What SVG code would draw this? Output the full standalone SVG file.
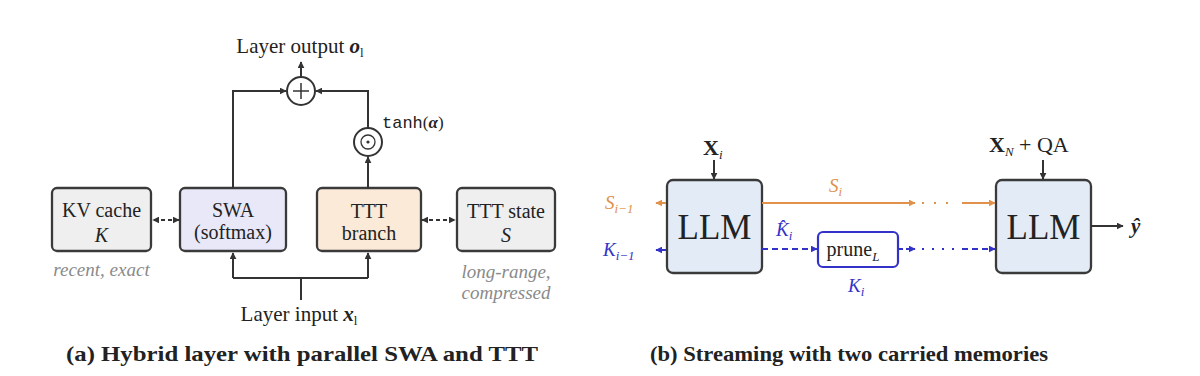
<svg xmlns="http://www.w3.org/2000/svg" width="1200" height="376" viewBox="0 0 1200 376" font-family="Liberation Serif, DejaVu Serif, serif">
<style>
text{font-family:"Liberation Serif","DejaVu Serif","Noto Serif",serif;fill:#222}
.box{stroke:#3a3a3a;stroke-width:2.3}
.grey{fill:#efefef}
.swa{fill:#e8e8f8}
.ttt{fill:#fbead8}
.llm{fill:#e3ebf6}
.lbl{font-size:20px}
.note{font-size:19px;font-style:italic;fill:#8a8a8a}
.cap{font-size:22px;font-weight:bold}
.ln{fill:none;stroke:#333;stroke-width:2}
.or{fill:none;stroke:#e0914a;stroke-width:2}
.bl{fill:none;stroke:#3232c8;stroke-width:2}
</style>
<defs>
<marker id="ak" viewBox="0 0 10 10" refX="9" refY="5" markerWidth="7" markerHeight="7" markerUnits="userSpaceOnUse" orient="auto-start-reverse"><path d="M0,0 L10,5 L0,10 z" fill="#333"/></marker>
<marker id="ao" viewBox="0 0 10 10" refX="9" refY="5" markerWidth="7" markerHeight="7" markerUnits="userSpaceOnUse" orient="auto-start-reverse"><path d="M0,0 L10,5 L0,10 z" fill="#e0914a"/></marker>
<marker id="ab" viewBox="0 0 10 10" refX="9" refY="5" markerWidth="7" markerHeight="7" markerUnits="userSpaceOnUse" orient="auto-start-reverse"><path d="M0,0 L10,5 L0,10 z" fill="#3232c8"/></marker>
</defs>

<!-- Panel (a) nodes -->
<g id="kv">
<rect class="box grey" x="52" y="188" width="99" height="63" rx="5"/>
<text class="lbl" x="101.5" y="217" text-anchor="middle">KV cache</text>
<text class="lbl" x="101.5" y="242" text-anchor="middle" font-style="italic">K</text>
</g>
<g id="swa">
<rect class="box swa" x="180" y="188" width="106" height="63" rx="5"/>
<text class="lbl" x="233" y="217" text-anchor="middle">SWA</text>
<text class="lbl" x="233" y="239" text-anchor="middle">(softmax)</text>
</g>
<g id="ttt">
<rect class="box ttt" x="317" y="188" width="104" height="63" rx="5"/>
<text class="lbl" x="369" y="218" text-anchor="middle">TTT</text>
<text class="lbl" x="369" y="240" text-anchor="middle">branch</text>
</g>
<g id="tttstate">
<rect class="box grey" x="457" y="188" width="98" height="63" rx="5"/>
<text class="lbl" x="506" y="218" text-anchor="middle">TTT state</text>
<text class="lbl" x="506" y="242" text-anchor="middle" font-style="italic">S</text>
</g>
<g id="plus">
<circle cx="301" cy="91" r="14" fill="#fff" stroke="#333" stroke-width="2"/>
<path d="M293,91 H309 M301,83 V99" stroke="#333" stroke-width="1.5"/>
</g>
<g id="odot">
<circle cx="368" cy="142" r="14" fill="#fff" stroke="#333" stroke-width="2"/>
<circle cx="368" cy="142" r="7" fill="none" stroke="#333" stroke-width="1.3"/>
<circle cx="368" cy="142" r="1.6" fill="#333"/>
</g>
<g id="labels-a">
<text x="300" y="53" text-anchor="middle" style="font-size:21px">Layer output <tspan font-style="italic" font-weight="bold">o</tspan><tspan font-size="13" dy="4">l</tspan></text>
<text x="382" y="128" font-size="17"><tspan style="font-family:'Liberation Mono',monospace">tanh</tspan>(<tspan font-style="italic" font-weight="bold">α</tspan>)</text>
<text x="299" y="321" text-anchor="middle" style="font-size:21px">Layer input <tspan font-style="italic" font-weight="bold">x</tspan><tspan font-size="13" dy="4">l</tspan></text>
<text class="note" x="101.5" y="276" text-anchor="middle">recent, exact</text>
<text class="note" x="506" y="278" text-anchor="middle">long-range,</text>
<text class="note" x="506" y="299" text-anchor="middle">compressed</text>
<text class="cap" x="302" y="361" text-anchor="middle" textLength="472" lengthAdjust="spacingAndGlyphs">(a) Hybrid layer with parallel SWA and TTT</text>
</g>

<!-- Panel (b) nodes -->
<g id="llm1">
<rect class="box llm" x="667" y="180" width="95" height="93" rx="6"/>
<text x="714.5" y="239" text-anchor="middle" font-size="35">LLM</text>
</g>
<g id="prune">
<rect x="818" y="232" width="80" height="35" rx="5" fill="#fff" stroke="#3232c8" stroke-width="2.2"/>
<text class="lbl" x="853" y="256" text-anchor="middle">prune<tspan font-size="13" dy="5" font-style="italic">L</tspan></text>
</g>
<g id="llm2">
<rect class="box llm" x="996" y="180" width="95" height="93" rx="6"/>
<text x="1043.5" y="239" text-anchor="middle" font-size="35">LLM</text>
</g>
<g id="labels-b">
<text x="703" y="155" font-size="22" font-weight="bold">X<tspan font-size="13" font-weight="normal" font-style="italic" dy="4">i</tspan></text>
<text x="989" y="152" font-size="22"><tspan font-weight="bold">X</tspan><tspan font-size="13" font-style="italic" dy="4">N</tspan><tspan dy="-4"> + QA</tspan></text>
<text x="1131" y="233" font-size="21" font-style="italic" font-weight="bold">ŷ</text>
<text x="605" y="209" font-size="19" font-style="italic" style="fill:#e0914a">S<tspan font-size="13" dy="4">i−1</tspan></text>
<text x="603" y="256" font-size="19" font-style="italic" style="fill:#3232c8">K<tspan font-size="13" dy="4">i−1</tspan></text>
<text x="829" y="192" font-size="19" font-style="italic" style="fill:#e0914a">S<tspan font-size="13" dy="4">i</tspan></text>
<text x="776" y="236" font-size="19" font-style="italic" style="fill:#3232c8">K̂<tspan font-size="13" dy="4">i</tspan></text>
<text x="848" y="292" font-size="19" font-style="italic" style="fill:#3232c8">K<tspan font-size="13" dy="4">i</tspan></text>
<text class="cap" x="849" y="361" text-anchor="middle" textLength="398" lengthAdjust="spacingAndGlyphs">(b) Streaming with two carried memories</text>
</g>

<!-- connectors -->
<g id="connectors">
<path class="ln" d="M179,220 H153" stroke-dasharray="4,3" marker-start="url(#ak)" marker-end="url(#ak)"/>
<path class="ln" d="M422,220 H455" stroke-dasharray="4,3" marker-start="url(#ak)" marker-end="url(#ak)"/>
<path class="ln" d="M301,300 V278"/>
<path class="ln" d="M233,278 H368"/>
<path class="ln" d="M233,278 V253" marker-end="url(#ak)"/>
<path class="ln" d="M368,278 V253" marker-end="url(#ak)"/>
<path class="ln" d="M233,188 V91 H286" marker-end="url(#ak)"/>
<path class="ln" d="M368,188 V157" marker-end="url(#ak)"/>
<path class="ln" d="M368,128 V91 H316" marker-end="url(#ak)"/>
<path class="ln" d="M301,77 V62" marker-end="url(#ak)"/>

<path class="ln" d="M714,160 V179" marker-end="url(#ak)"/>
<path class="ln" d="M1043,160 V179" marker-end="url(#ak)"/>
<path class="ln" d="M1091,226 H1123" marker-end="url(#ak)"/>
<path class="or" d="M666,203 H656" marker-end="url(#ao)"/>
<path class="bl" d="M666,250 H656" marker-end="url(#ab)"/>

<path class="or" d="M762,203 H915" marker-end="url(#ao)"/>
<path class="or" d="M922,203 H958" stroke-dasharray="2,10"/>
<path class="or" d="M962,203 H995" marker-end="url(#ao)"/>

<path class="bl" d="M762,249 H817" stroke-dasharray="6,4" marker-end="url(#ab)"/>
<path class="bl" d="M898,249 H915" stroke-dasharray="5,3" marker-end="url(#ab)"/>
<path class="bl" d="M922,249 H958" stroke-dasharray="2,8"/>
<path class="bl" d="M962,249 H995" stroke-dasharray="6,4" marker-end="url(#ab)"/>
</g>
</svg>
